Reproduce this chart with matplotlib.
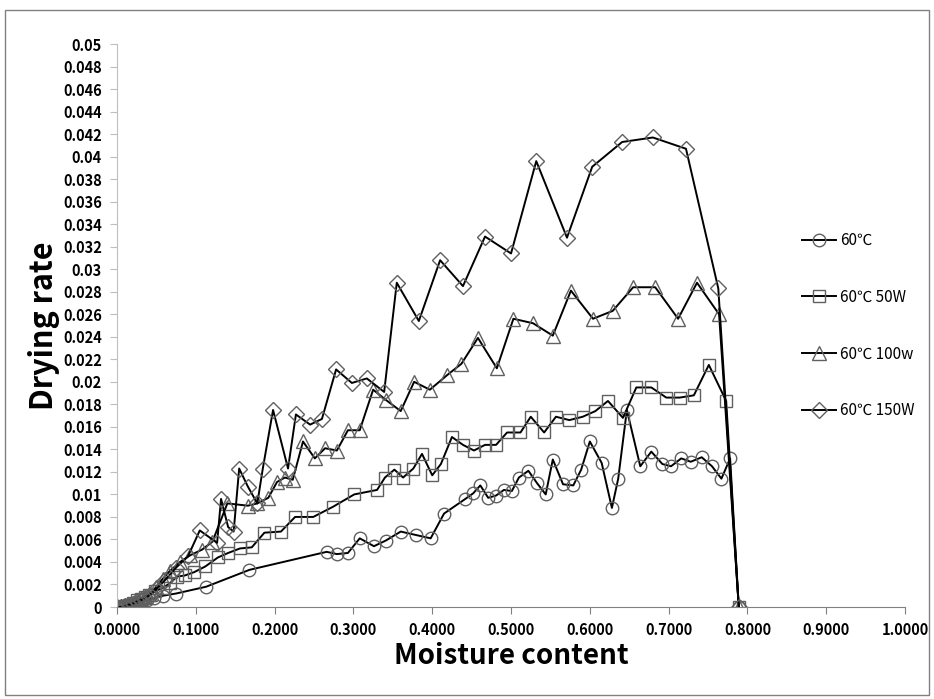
import matplotlib
matplotlib.use('Agg')
import matplotlib.pyplot as plt
from matplotlib.patches import Rectangle
from matplotlib.ticker import FuncFormatter, MultipleLocator

plt.rcParams['font.family'] = ['Noto Sans CJK KR', 'DejaVu Sans']

# 60℃
x_60 = [0.000, 0.004, 0.008, 0.012, 0.016, 0.020, 0.025, 0.030, 0.038, 0.047, 0.058, 0.075, 0.113, 0.168,
        0.266, 0.279, 0.293, 0.308, 0.326, 0.341, 0.360, 0.379, 0.398, 0.415, 0.442, 0.452, 0.461, 0.471,
        0.481, 0.491, 0.501, 0.510, 0.522,
        0.533, 0.544, 0.553, 0.566, 0.579, 0.589, 0.600, 0.615, 0.628, 0.636, 0.647, 0.664, 0.678, 0.692,
        0.703, 0.716, 0.728, 0.742, 0.755, 0.767, 0.778, 0.789]
y_60 = [0, 0, 0, 0.0001, 0.0001, 0.0002, 0.0003, 0.0004, 0.0006, 0.0008, 0.0010, 0.0012, 0.0018, 0.0033,
        0.0049, 0.0047, 0.0048, 0.0061, 0.0054, 0.0059, 0.0067, 0.0064, 0.0061, 0.0083, 0.0096, 0.0101, 0.0108, 0.0097,
        0.0099, 0.0104, 0.0103, 0.0115, 0.0121,
        0.0110, 0.0100, 0.0131, 0.0109, 0.0108, 0.0122, 0.0147, 0.0128, 0.0088, 0.0114, 0.0175, 0.0125, 0.0138, 0.0127,
        0.0125, 0.0132, 0.0129, 0.0133, 0.0125, 0.0114, 0.0132, 0]

# 60℃ 50W
x_50 = [0.000, 0.005, 0.010, 0.015, 0.020, 0.025, 0.030, 0.035, 0.040, 0.048, 0.058, 0.067, 0.076, 0.086,
        0.098, 0.112, 0.128, 0.141, 0.156, 0.171, 0.187, 0.208, 0.226, 0.249, 0.274, 0.301, 0.330, 0.340,
        0.352, 0.363, 0.376, 0.387, 0.400, 0.411, 0.425, 0.439, 0.453, 0.467, 0.481, 0.495, 0.512, 0.525,
        0.542, 0.557, 0.574, 0.591, 0.607, 0.623, 0.642, 0.659, 0.678, 0.697, 0.714, 0.732, 0.751, 0.773, 0.789]
y_50 = [0, 0, 0.0001, 0.0002, 0.0004, 0.0006, 0.0007, 0.0009, 0.0011, 0.0014, 0.0017, 0.0021, 0.0027, 0.0028,
        0.0031, 0.0036, 0.0044, 0.0048, 0.0052, 0.0053, 0.0066, 0.0067, 0.0080, 0.0080, 0.0089, 0.0100, 0.0104, 0.0115,
        0.0122, 0.0115, 0.0123, 0.0136, 0.0117, 0.0127, 0.0151, 0.0144, 0.0139, 0.0144, 0.0144, 0.0155, 0.0155, 0.0169,
        0.0155, 0.0169, 0.0166, 0.0169, 0.0174, 0.0183, 0.0168, 0.0195, 0.0195, 0.0186, 0.0186, 0.0188, 0.0215, 0.0183, 0]

# 60℃ 100w
x_100 = [0.000, 0.005, 0.010, 0.015, 0.020, 0.025, 0.030, 0.036, 0.042, 0.050, 0.058, 0.067, 0.080,
         0.093, 0.108, 0.121, 0.140, 0.166, 0.178, 0.192, 0.203, 0.213, 0.223, 0.236, 0.251, 0.264, 0.279,
         0.293, 0.308, 0.325, 0.341, 0.360, 0.377, 0.397, 0.419, 0.437, 0.458, 0.482, 0.503, 0.528, 0.553,
         0.576, 0.604, 0.629, 0.655, 0.683, 0.712, 0.736, 0.764, 0.789]
y_100 = [0, 0, 0.0001, 0.0002, 0.0003, 0.0005, 0.0007, 0.0009, 0.0012, 0.0018, 0.0025, 0.0032, 0.0040,
         0.0046, 0.0051, 0.0058, 0.0092, 0.0090, 0.0092, 0.0097, 0.0111, 0.0115, 0.0113, 0.0147, 0.0132, 0.0141, 0.0139,
         0.0157, 0.0157, 0.0193, 0.0184, 0.0174, 0.0200, 0.0193, 0.0206, 0.0216, 0.0239, 0.0212, 0.0256, 0.0252, 0.0241,
         0.0281, 0.0256, 0.0263, 0.0284, 0.0284, 0.0256, 0.0288, 0.0260, 0]

# 60℃ 150W
x_150 = [0.000, 0.005, 0.010, 0.015, 0.020, 0.025, 0.030, 0.036, 0.042, 0.050, 0.061, 0.075, 0.090, 0.105,
         0.127, 0.132, 0.141, 0.148, 0.155, 0.166, 0.178, 0.185, 0.198, 0.217, 0.227, 0.245, 0.260, 0.278,
         0.298, 0.317, 0.339, 0.355, 0.383, 0.410, 0.439, 0.467, 0.500, 0.532, 0.571, 0.603, 0.641, 0.680,
         0.722, 0.763, 0.789]
y_150 = [0, 0, 0.0001, 0.0002, 0.0003, 0.0005, 0.0006, 0.0008, 0.0011, 0.0016, 0.0024, 0.0035, 0.0045, 0.0068,
         0.0057, 0.0096, 0.0071, 0.0067, 0.0123, 0.0107, 0.0092, 0.0123, 0.0175, 0.0123, 0.0171, 0.0162, 0.0167, 0.0211,
         0.0199, 0.0203, 0.0191, 0.0288, 0.0254, 0.0308, 0.0285, 0.0329, 0.0314, 0.0396, 0.0328, 0.0391, 0.0413, 0.0417,
         0.0407, 0.0283, 0]

series = [
    (x_60, y_60, 'o', 9, '60℃'),
    (x_50, y_50, 's', 9, '60℃ 50W'),
    (x_100, y_100, '^', 9.5, '60℃ 100w'),
    (x_150, y_150, 'D', 8, '60℃ 150W'),
]

fig = plt.figure(figsize=(9.34, 6.99), dpi=100)
ax = fig.add_axes([0.1253, 0.1316, 0.8437, 0.8054])

for xs, ys, mk, ms, lab in series:
    ax.plot(xs, ys, color='black', linewidth=1.4, marker=mk, markersize=ms,
            markerfacecolor='none', markeredgecolor='#606060', markeredgewidth=1.0, label=lab)

ax.set_xlim(0, 1.0)
ax.set_ylim(0, 0.05)
ax.xaxis.set_major_locator(MultipleLocator(0.1))
ax.yaxis.set_major_locator(MultipleLocator(0.002))
ax.xaxis.set_major_formatter(FuncFormatter(lambda v, p: '%.4f' % v))
ax.yaxis.set_major_formatter(FuncFormatter(lambda v, p: ('%.3f' % v).rstrip('0').rstrip('.') if v > 1e-9 else '0'))

for s in ['top', 'right']:
    ax.spines[s].set_visible(False)
ax.spines['left'].set_color('#bfbfbf')
ax.spines['bottom'].set_color('#808080')
ax.tick_params(axis='y', direction='out', length=5, color='#bfbfbf', labelsize=10.5, pad=6)
ax.tick_params(axis='x', direction='out', length=5, color='#808080', labelsize=10.5, pad=6)
for t in ax.get_xticklabels() + ax.get_yticklabels():
    t.set_fontweight('bold')

ax.set_xlabel('Moisture content', fontsize=20, fontweight='bold', labelpad=3)
ax.set_ylabel('Drying rate', fontsize=22, fontweight='bold', labelpad=2)

ax.legend(loc='center left', bbox_to_anchor=(0.852, 0.50), frameon=False, fontsize=11,
          labelspacing=2.6, handlelength=2.2, handletextpad=0.3)

fig.patches.append(Rectangle((5 / 934, 4 / 699), 924 / 934, 685 / 699, transform=fig.transFigure,
                             fill=False, edgecolor='#808080', linewidth=1))

fig.savefig('out.png', dpi=100)
